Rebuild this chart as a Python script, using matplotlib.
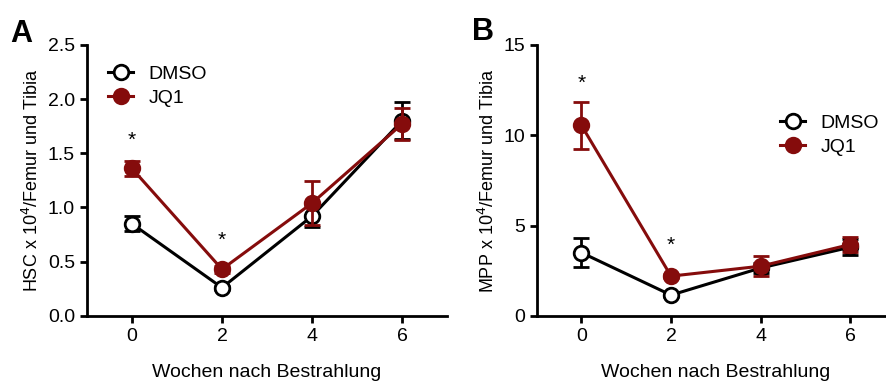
import matplotlib
matplotlib.use("Agg")
import matplotlib.pyplot as plt

plt.rcParams['font.family'] = ['Liberation Sans', 'DejaVu Sans']

weeks = [0, 2, 4, 6]

# panel A: HSC
hsc_dmso = [0.85, 0.26, 0.92, 1.80]
hsc_dmso_err = [0.07, 0.02, 0.10, 0.17]
hsc_jq1 = [1.36, 0.43, 1.04, 1.77]
hsc_jq1_err = [0.07, 0.03, 0.20, 0.15]
hsc_star_x = [0, 2]
hsc_star_y = [1.62, 0.70]

# panel B: MPP
mpp_dmso = [3.5, 1.15, 2.65, 3.8]
mpp_dmso_err = [0.8, 0.1, 0.3, 0.45]
mpp_jq1 = [10.55, 2.2, 2.75, 3.95]
mpp_jq1_err = [1.3, 0.1, 0.55, 0.4]
mpp_star_x = [0, 2]
mpp_star_y = [12.9, 3.9]

red = '#850c0c'

fig = plt.figure(figsize=(8.87, 3.81), dpi=100)
axA = fig.add_axes([0.098, 0.171, 0.406, 0.711])
axB = fig.add_axes([0.605, 0.171, 0.404, 0.711])


def draw(ax, dmso, dmso_err, jq1, jq1_err, sx, sy, ylim, yticks, ylab):
    ax.errorbar(weeks, dmso, yerr=dmso_err, color='black', lw=2.2, marker='o',
                ms=10.5, mfc='white', mec='black', mew=2, capsize=6, capthick=2,
                elinewidth=2, label='DMSO', zorder=3)
    ax.errorbar(weeks, jq1, yerr=jq1_err, color=red, lw=2.2, marker='o',
                ms=10.5, mfc=red, mec=red, mew=2, capsize=6, capthick=2,
                elinewidth=2, label='JQ1', zorder=4)
    for x, y in zip(sx, sy):
        ax.text(x, y, '*', ha='center', va='center', fontsize=15)
    ax.set_xlim(-1, 7)
    ax.set_ylim(*ylim)
    ax.set_xticks(weeks)
    ax.set_yticks(yticks)
    ax.spines['top'].set_visible(False)
    ax.spines['right'].set_visible(False)
    ax.spines['left'].set_linewidth(2)
    ax.spines['bottom'].set_linewidth(2)
    ax.tick_params(width=2, length=5, labelsize=14)
    ax.set_ylabel(ylab, fontsize=13, labelpad=4)
    ax.set_xlabel('Wochen nach Bestrahlung', fontsize=14, labelpad=14)


draw(axA, hsc_dmso, hsc_dmso_err, hsc_jq1, hsc_jq1_err, hsc_star_x, hsc_star_y,
     (0, 2.5), [0.0, 0.5, 1.0, 1.5, 2.0, 2.5], 'HSC x 10$^4$/Femur und Tibia')
axA.set_yticklabels(['0.0', '0.5', '1.0', '1.5', '2.0', '2.5'])
draw(axB, mpp_dmso, mpp_dmso_err, mpp_jq1, mpp_jq1_err, mpp_star_x, mpp_star_y,
     (0, 15), [0, 5, 10, 15], 'MPP x 10$^4$/Femur und Tibia')

for ax, loc in [(axA, (0.01, 0.99)), (axB, (0.63, 0.81))]:
    h, l = ax.get_legend_handles_labels()
    h = [x[0] for x in h]
    ax.legend(h, l, loc='upper left', bbox_to_anchor=loc, frameon=False,
              fontsize=14, handlelength=1.3, handletextpad=0.8, labelspacing=0.35)

fig.text(0.012, 0.89, 'A', fontsize=22, fontweight='bold')
fig.text(0.532, 0.895, 'B', fontsize=22, fontweight='bold')

fig.savefig('out.png', dpi=100)
